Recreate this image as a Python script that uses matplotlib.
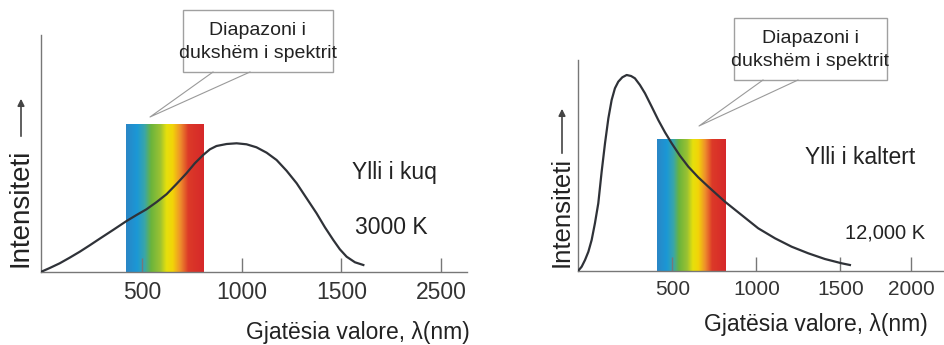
import matplotlib
matplotlib.use("Agg")
import matplotlib.pyplot as plt
import numpy as np
from matplotlib.colors import LinearSegmentedColormap
from matplotlib.patches import Rectangle
from matplotlib.lines import Line2D

plt.rcParams['font.family'] = ['Liberation Sans', 'DejaVu Sans']

W, H = 945, 345

# red star, 3000 K (wavelength nm, intensity)
red_nm = [-8, 34, 84, 134, 185, 235, 285, 352, 420, 470, 520, 570, 621, 671, 721, 763,
          805, 839, 872, 923, 973, 1023, 1073, 1124, 1174, 1224, 1275, 1325, 1375, 1417,
          1459, 1492, 1526, 1568, 1610]
red_I = [0, 3.7, 8.4, 14, 20, 26.4, 33, 41.7, 50.7, 56.7, 62.4, 69.5, 77.5, 87.7, 98.4, 108.4,
         116.7, 122.4, 125.7, 127.7, 128.4, 127.4, 124.4, 119, 111.7, 101, 88.4, 73.4, 58.4, 44.4,
         31.7, 22.4, 15, 9.4, 6.7]

# blue star, 12,000 K
blue_nm = [-60, -40, -20, 0, 19.5, 39, 59, 79, 99, 119, 138.5, 158, 178, 202, 228, 254, 277,
           307, 337, 377, 416, 456, 496, 545, 595, 654, 714, 813, 912, 1011, 1111, 1210,
           1309, 1408, 1508, 1557]
blue_I = [0, 4, 10.7, 19, 30.7, 47.4, 67.4, 99, 127.4, 152.4, 170.7, 182.4, 189, 193.4, 195.7,
          194.7, 192.4, 185.7, 177.4, 164, 150.7, 138.4, 127.4, 115, 104, 93.4, 84, 69, 55.7,
          42.4, 32.4, 24, 17.4, 11.7, 7.4, 5.7]

# visible band drawn on each panel (start nm, end nm, height)
vis_left = (418, 807, 147.7)
vis_right = (407, 813, 131.4)

ticks_left = [500, 1000, 1500, 2000]
ticklabels_left = ['500', '1000', '1500', '2500']
ticks_right = [500, 1000, 1500, 1920]
ticklabels_right = ['500', '1000', '1500', '2000']

spec_cmap = LinearSegmentedColormap.from_list('spec', [
    (0.00, '#2a86c6'), (0.14, '#1b98d6'), (0.24, '#3aa6a8'),
    (0.32, '#6ab43c'), (0.44, '#9cc232'), (0.52, '#e6e00c'),
    (0.60, '#f2d408'), (0.70, '#ee8e2c'), (0.80, '#dc3a28'),
    (1.00, '#d6282a')])

fig = plt.figure(figsize=(W / 100, H / 100), dpi=100)


def frac(x, y_top):
    return x / W, 1 - y_top / H


def make_axes(x0, x1, y_top, y_axis, xlim):
    ax = fig.add_axes([x0 / W, 1 - y_axis / H, (x1 - x0) / W, (y_axis - y_top) / H])
    ax.set_xlim(*xlim)
    ax.set_ylim(0, y_axis - y_top)
    for s in ['top', 'right']:
        ax.spines[s].set_visible(False)
    for s in ['left', 'bottom']:
        ax.spines[s].set_color('#777777')
        ax.spines[s].set_linewidth(1.0)
    ax.set_yticks([])
    ax.tick_params(axis='x', direction='in', length=10, width=1, color='#777777',
                   labelcolor='#333333', pad=7)
    return ax


def draw_panel(ax, nm, I, vis, ticks, labels, fs):
    grad = np.linspace(0, 1, 256).reshape(1, -1)
    ax.imshow(grad, cmap=spec_cmap, aspect='auto', extent=[vis[0], vis[1], 0, vis[2]],
              zorder=1, interpolation='bilinear')
    ax.plot(nm, I, color='#2f3238', lw=1.6, zorder=3, solid_joinstyle='round')
    ax.set_xticks(ticks)
    ax.set_xticklabels(labels, fontsize=fs)


axL = make_axes(41, 467, 35, 271.7, (-10, 2131))
draw_panel(axL, red_nm, red_I, vis_left, ticks_left, ticklabels_left, 16.5)

axR = make_axes(578.3, 945, 60, 270.7, (-60, 2123))
draw_panel(axR, blue_nm, blue_I, vis_right, ticks_right, ticklabels_right, 15)

# y labels with arrows
fig.text(*frac(21, 208), 'Intensiteti', rotation=90, ha='center', va='center',
         fontsize=20, color='#222222')
fig.add_artist(plt.Annotation('', xy=frac(21, 96), xytext=frac(21, 139),
                              xycoords='figure fraction', textcoords='figure fraction',
                              arrowprops=dict(arrowstyle='-|>', color='#444444', lw=1.2,
                                              mutation_scale=10)))
fig.text(*frac(562, 212), 'Intensiteti', rotation=90, ha='center', va='center',
         fontsize=18.5, color='#222222')
fig.add_artist(plt.Annotation('', xy=frac(562, 106), xytext=frac(562, 156),
                              xycoords='figure fraction', textcoords='figure fraction',
                              arrowprops=dict(arrowstyle='-|>', color='#444444', lw=1.2,
                                              mutation_scale=10)))

# x labels
fig.text(*frac(470, 332), 'Gjatësia valore, λ(nm)', ha='right', va='center',
         fontsize=16.5, color='#222222')
fig.text(*frac(928, 325), 'Gjatësia valore, λ(nm)', ha='right', va='center',
         fontsize=16.5, color='#222222')

# star names / temperatures
fig.text(*frac(352, 172), 'Ylli i kuq', ha='left', va='center', fontsize=16.5, color='#222222')
fig.text(*frac(355, 228), '3000 K', ha='left', va='center', fontsize=16.5, color='#222222')
fig.text(*frac(805, 157), 'Ylli i kaltert', ha='left', va='center', fontsize=16.5, color='#222222')
fig.text(*frac(845, 233), '12,000 K', ha='left', va='center', fontsize=14.5, color='#222222')


# callout boxes
def callout(x0, x1, y0, y1, base1, base2, tip):
    fig.add_artist(Line2D([frac(*base1)[0], frac(*tip)[0], frac(*base2)[0]],
                          [frac(*base1)[1], frac(*tip)[1], frac(*base2)[1]],
                          transform=fig.transFigure, color='#9a9a9a', lw=0.8))
    bx, by = frac(x0, y1)
    fig.add_artist(Rectangle((bx, by), (x1 - x0) / W, (y1 - y0) / H, transform=fig.transFigure,
                             fc='white', ec='#a0a0a0', lw=1.0))
    fig.text(*frac((x0 + x1) / 2, (y0 + y1) / 2 + 1), 'Diapazoni i\ndukshëm i spektrit',
             ha='center', va='center', fontsize=14, linespacing=1.4, color='#222222')


callout(183, 333, 10, 72, (213, 72), (250, 72), (150, 117))
callout(734, 887, 18, 80, (763, 80), (798, 80), (699, 126))

fig.savefig('out.png', dpi=100)
